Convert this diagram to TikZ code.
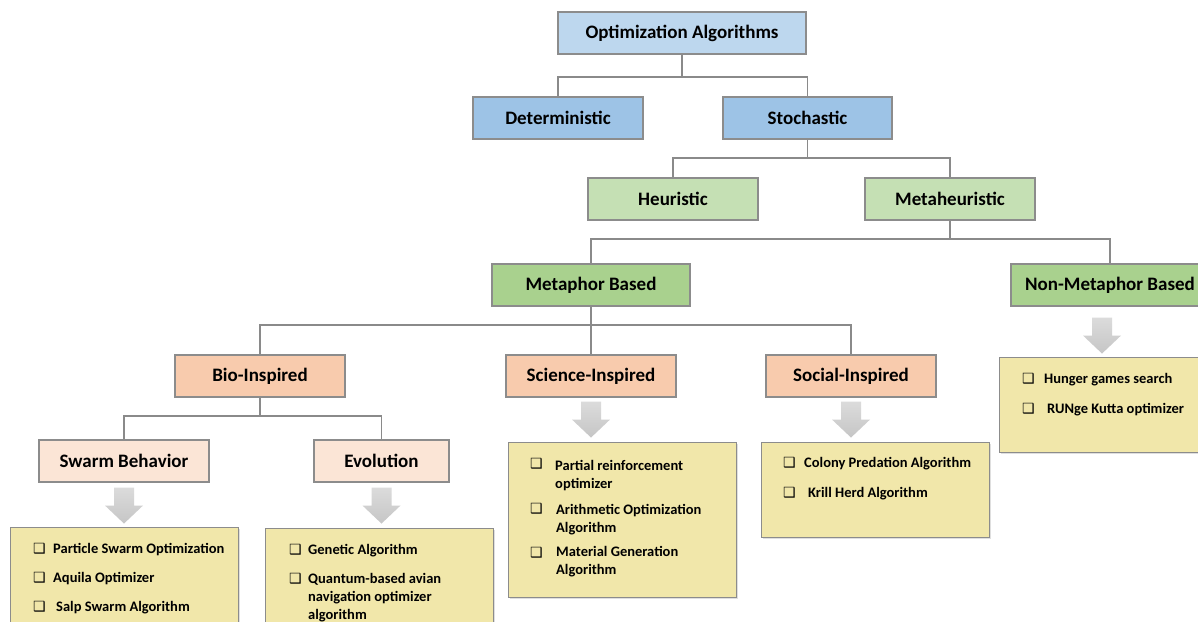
\documentclass[tikz,border=0pt]{standalone}
\usepackage{fontspec}
\setmainfont{Carlito}
\newfontfamily\symfont{DejaVu Sans}
\usetikzlibrary{shadows,calc}
\definecolor{bordergray}{HTML}{8C8C8C}
\definecolor{linegray}{HTML}{8A8A8A}
\definecolor{cTop}{HTML}{BDD7EE}
\definecolor{cBlue}{HTML}{9DC3E6}
\definecolor{cLGreen}{HTML}{C5E0B4}
\definecolor{cGreen}{HTML}{A9D18E}
\definecolor{cOrange}{HTML}{F8CBAD}
\definecolor{cPeach}{HTML}{FBE5D6}
\definecolor{cYellow}{HTML}{F1E7AA}
\tikzset{
  box/.style={draw=bordergray, line width=1.1pt, minimum height=42pt, inner sep=0pt,
    font=\bfseries\fontsize{19}{22}\selectfont,
    drop shadow={opacity=0.25, shadow xshift=1.2pt, shadow yshift=-1.2pt}},
  listbox/.style={draw=bordergray, line width=1.1pt, fill=cYellow, inner sep=0pt, anchor=north west,
    drop shadow={opacity=0.25, shadow xshift=1.2pt, shadow yshift=-1.2pt}},
  conn/.style={draw=linegray, line width=1.1pt},
  itemtext/.style={inner sep=0pt, anchor=base west, font=\bfseries\fontsize{14.5}{17}\selectfont},
  bul/.style={inner sep=0pt, anchor=base west, font=\symfont\fontsize{14}{16}\selectfont},
  downarrow/.pic={\shade[top color=gray!28, bottom color=gray!45]
    (-10,0) -- (10,0) -- (10,18) -- (19,18) -- (0,36) -- (-19,18) -- (-10,18) -- cycle;}
}
\begin{document}
\begin{tikzpicture}[x=1pt,y=-1pt]
\path[use as bounding box, fill=white] (0,0) rectangle (1198,621);

% tree boxes
\node[box, fill=cTop, minimum width=248pt] (opt) at (682,33) {Optimization Algorithms};
\node[box, fill=cBlue, minimum width=170pt] (det) at (558,118) {Deterministic};
\node[box, fill=cBlue, minimum width=169pt] (sto) at (807.5,118) {Stochastic};
\node[box, fill=cLGreen, minimum width=170pt] (heu) at (673,199) {Heuristic};
\node[box, fill=cLGreen, minimum width=170pt] (meta) at (950,199) {Metaheuristic};
\node[box, fill=cGreen, minimum width=198pt] (mb) at (591,285) {Metaphor Based};
\node[box, fill=cGreen, minimum width=198pt] (nmb) at (1110,285) {Non-Metaphor Based};
\node[box, fill=cOrange, minimum width=170pt] (bio) at (260,376) {Bio-Inspired};
\node[box, fill=cOrange, minimum width=170pt] (sci) at (591,376) {Science-Inspired};
\node[box, fill=cOrange, minimum width=170pt] (soc) at (851,376) {Social-Inspired};
\node[box, fill=cPeach, minimum width=170pt] (swarm) at (124,461) {Swarm Behavior};
\node[box, fill=cPeach, minimum width=135pt] (evo) at (381.5,461) {Evolution};

% connectors
\coordinate (j1) at (682,77);
\coordinate (j2) at (807.5,158);
\coordinate (j3) at (950,239);
\coordinate (j4) at (591,325);
\coordinate (j5) at (260,416);
\draw[conn] (opt.south) -- (j1);
\draw[conn] (j1) -| (det.north);
\draw[conn] (j1) -| (sto.north);
\draw[conn] (sto.south) -- (j2);
\draw[conn] (j2) -| (heu.north);
\draw[conn] (j2) -| (meta.north);
\draw[conn] (meta.south) -- (j3);
\draw[conn] (j3) -| (mb.north);
\draw[conn] (j3) -| (nmb.north);
\draw[conn] (mb.south) -- (j4);
\draw[conn] (j4) -| (bio.north);
\draw[conn] (j4) -- (sci.north);
\draw[conn] (j4) -| (soc.north);
\draw[conn] (bio.south) -- (j5);
\draw[conn] (j5) -| (swarm.north);
\draw[conn] (j5) -| (evo.north);

% block arrows
\pic at ($(swarm.south)+(0,5)$) {downarrow};
\pic at ($(evo.south)+(0,5)$) {downarrow};
\pic at ($(sci.south)+(0,4)$) {downarrow};
\pic at ($(soc.south)+(0,4)$) {downarrow};
\pic at ($(nmb.south)+(-8,11)$) {downarrow};

% list boxes
\node[listbox, minimum width=228pt, minimum height=110pt] (lsw) at (10,527) {};
\node[listbox, minimum width=228pt, minimum height=110pt] (lev) at (265,528) {};
\node[listbox, minimum width=228pt, minimum height=155pt] (lsc) at (508,442) {};
\node[listbox, minimum width=228pt, minimum height=95pt] (lso) at (761,442) {};
\node[listbox, minimum width=215pt, minimum height=95pt] (lnm) at (999,357) {};

% swarm items
\node[bul] (b11) at (33,553) {❑};
\node[itemtext] (t11) at (53,553) {Particle Swarm Optimization};
\node[bul] (b12) at (33,582) {❑};
\node[itemtext] (t12) at (53,582) {Aquila Optimizer};
\node[bul] (b13) at (33,611) {❑};
\node[itemtext] (t13) at (56,611) {Salp Swarm Algorithm};

% evolution items
\node[bul] (b21) at (289,554) {❑};
\node[itemtext] (t21) at (308,554) {Genetic Algorithm};
\node[bul] (b22) at (289,583) {❑};
\node[itemtext] (t22a) at (308,583) {Quantum-based avian};
\node[itemtext] (t22b) at (308,601) {navigation optimizer};
\node[itemtext] (t22c) at (308,619) {algorithm};

% science items
\node[bul] (b31) at (530,468) {❑};
\node[itemtext] (t31a) at (555,470) {Partial reinforcement};
\node[itemtext] (t31b) at (555,488) {optimizer};
\node[bul] (b32) at (530,513) {❑};
\node[itemtext] (t32a) at (556,514) {Arithmetic Optimization};
\node[itemtext] (t32b) at (556,532) {Algorithm};
\node[bul] (b33) at (530,557) {❑};
\node[itemtext] (t33a) at (556,556) {Material Generation};
\node[itemtext] (t33b) at (556,574) {Algorithm};

% social items
\node[bul] (b41) at (783,467) {❑};
\node[itemtext] (t41) at (804,467) {Colony Predation Algorithm};
\node[bul] (b42) at (783,497) {❑};
\node[itemtext] (t42) at (808,497) {Krill Herd Algorithm};

% non-metaphor items
\node[bul] (b51) at (1022,383) {❑};
\node[itemtext] (t51) at (1044,383) {Hunger games search};
\node[bul] (b52) at (1022,413) {❑};
\node[itemtext] (t52) at (1047,413) {RUNge Kutta optimizer};
\end{tikzpicture}
\end{document}
